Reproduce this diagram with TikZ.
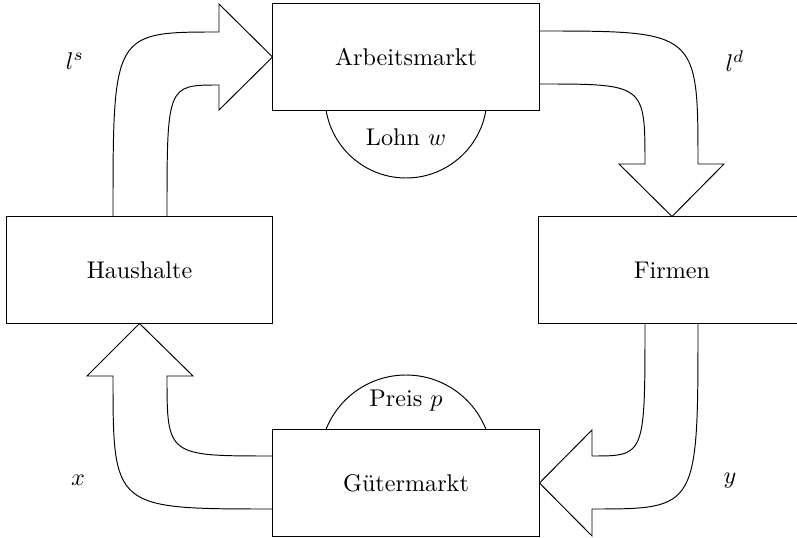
\documentclass[tikz,border=0pt]{standalone}
\usepackage{fontspec}
\begin{document}
\begin{tikzpicture}[x=0.414pt,y=-0.414pt,
  market/.style={draw,fill=white,minimum width=110.5pt,minimum height=44.3pt,inner sep=0pt,outer sep=0pt},
  lbl/.style={inner sep=0pt},
  flow/.style={draw,line join=miter}]
\useasboundingbox (0,0) rectangle (797,538);
\clip (0,0) rectangle (797,538);
% price/wage bubbles (behind the boxes)
\begin{scope}
  \clip (0,110) rectangle (797,300);
  \draw (406,97) circle[radius=81];
\end{scope}
\begin{scope}
  \clip (0,300) rectangle (797,430);
  \draw (406,461) circle[radius=86];
\end{scope}
% boxes
\node[market] (am) at (406,57) {Arbeitsmarkt};
\node[market] (hh) at (139.5,270) {Haushalte};
\node[market] (fi) at (672,270) {Firmen};
\node[market] (gm) at (406,483) {Gütermarkt};
\node[lbl] (lohn) at (406,137) {Lohn $w$};
\node[lbl] (preis) at (406,401) {Preis $p$};
% flows
\draw[flow] (hh.north -| 113,0) .. controls (113,32) .. (219,32) -- (219,4) -- (am.west) -- (219,110) -- (219,85) .. controls (167,85) .. (hh.north -| 167,0);
\draw[flow] (am.east |- 0,31) .. controls (698,31) .. (698,164) -- (724,164) -- (fi.north) -- (619,164) -- (645,164) .. controls (645,84) .. (am.east |- 0,84);
\draw[flow] (fi.south -| 645,0) .. controls (645,456) .. (592,456) -- (592,430) -- (gm.east) -- (592,536) -- (592,509) .. controls (698,509) .. (fi.south -| 698,0);
\draw[flow] (gm.west |- 0,456) .. controls (167,456) .. (167,376) -- (193,376) -- (hh.south) -- (87,376) -- (113,376) .. controls (113,509) .. (gm.west |- 0,509);
% labels
\node[lbl] (ls) at (75,61) {$l^s$};
\node[lbl] (ld) at (735,61) {$l^d$};
\node[lbl] (lx) at (78,480) {$x$};
\node[lbl] (ly) at (730,481) {$y$};
\end{tikzpicture}
\end{document}
